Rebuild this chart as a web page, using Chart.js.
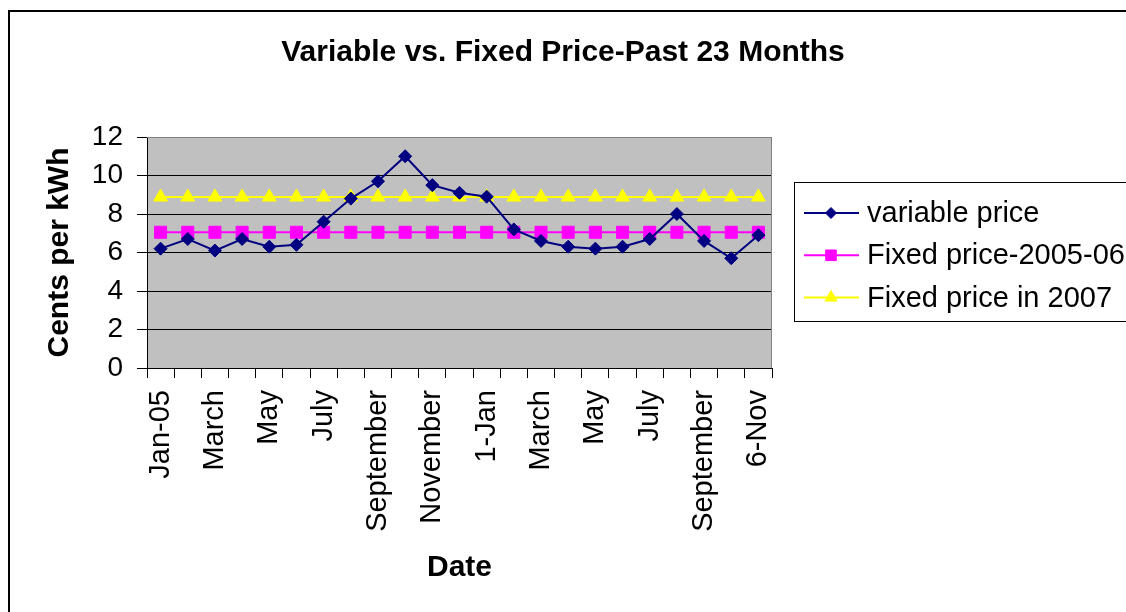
<!DOCTYPE html>
<html>
<head>
<meta charset="utf-8">
<script src="https://cdn.jsdelivr.net/npm/chart.js@4.4.1/dist/chart.umd.min.js"></script>
<style>
  html, body { margin: 0; padding: 0; background: #fff; }
  #wrap { width: 1126px; height: 612px; position: relative; }
</style>
</head>
<body>
<div id="wrap"><canvas id="chart"></canvas></div>
<script>
// ── Data ──────────────────────────────────────────────────
const months = ['Jan-05','February','March','April','May','June','July','August',
  'September','October','November','December','1-Jan','February','March','April',
  'May','June','July','August','September','October','6-Nov'];
const variablePrice = [6.2, 6.7, 6.1, 6.7, 6.3, 6.4, 7.6, 8.8, 9.7, 11.0, 9.5, 9.1,
  8.9, 7.2, 6.6, 6.3, 6.2, 6.3, 6.7, 8.0, 6.6, 5.7, 6.9];
const fixed2005_06 = [7.05, 7.05, 7.05, 7.05, 7.05, 7.05, 7.05, 7.05, 7.05, 7.05, 7.05, 7.05,
  7.05, 7.05, 7.05, 7.05, 7.05, 7.05, 7.05, 7.05, 7.05, 7.05, 7.05];
const fixed2007 = [8.88, 8.88, 8.88, 8.88, 8.88, 8.88, 8.88, 8.88, 8.88, 8.88, 8.88, 8.88,
  8.88, 8.88, 8.88, 8.88, 8.88, 8.88, 8.88, 8.88, 8.88, 8.88, 8.88];
const yTicks = [0, 2, 4, 6, 8, 10, 12];

const FONT = "'Liberation Sans', Arial, sans-serif";

// ── Plot background, outer frame, title ───────────────────
const frame = {
  id: 'frame',
  beforeDraw(chart) {
    const { ctx, chartArea: a } = chart;
    ctx.save();
    ctx.fillStyle = '#c0c0c0';
    ctx.fillRect(a.left, a.top, a.right - a.left, a.bottom - a.top);
    ctx.strokeStyle = '#000';
    ctx.lineWidth = 2;
    ctx.strokeRect(9, 11, 1300, 800);
    ctx.fillStyle = '#000';
    ctx.font = 'bold 30px ' + FONT;
    ctx.textAlign = 'center';
    ctx.textBaseline = 'middle';
    ctx.fillText('Variable vs. Fixed Price-Past 23 Months', 563, 53);
    ctx.restore();
  },
  beforeDatasetsDraw(chart) {
    const { ctx, chartArea: a } = chart;
    ctx.save();
    ctx.strokeStyle = '#808080';
    ctx.lineWidth = 1;
    ctx.beginPath();
    ctx.moveTo(a.left, a.top + 0.5);
    ctx.lineTo(a.right - 0.5, a.top + 0.5);
    ctx.lineTo(a.right - 0.5, a.bottom);
    ctx.stroke();
    ctx.restore();
  },
};

// ── Excel-style legend box ────────────────────────────────
const legendBox = {
  id: 'legendBox',
  afterDraw(chart) {
    const ctx = chart.ctx;
    ctx.save();
    ctx.strokeStyle = '#000';
    ctx.lineWidth = 1;
    ctx.strokeRect(794.5, 182.5, 400, 139);
    chart.data.datasets.forEach((ds, i) => {
      const y = 213 + i * 42.3;
      ctx.strokeStyle = ds.borderColor;
      ctx.lineWidth = ds.borderWidth;
      ctx.beginPath(); ctx.moveTo(804, y); ctx.lineTo(859, y); ctx.stroke();
      ctx.fillStyle = ds.pointBackgroundColor;
      ctx.strokeStyle = ds.pointBorderColor;
      ctx.lineWidth = 1;
      Chart.helpers.drawPoint(ctx, { pointStyle: ds.pointStyle, radius: ds.pointRadius - 1, rotation: 0, borderWidth: 1 }, 831, y);
      ctx.fillStyle = '#000';
      ctx.font = '29px ' + FONT;
      ctx.textAlign = 'left';
      ctx.textBaseline = 'middle';
      ctx.fillText(ds.label, 867, y + 1);
    });
    ctx.restore();
  },
};

const series = (label, data, color, style, r) => ({
  label, data,
  borderColor: color, backgroundColor: color, borderWidth: 2,
  pointStyle: style, pointRadius: r, pointHoverRadius: r,
  pointBackgroundColor: color, pointBorderColor: color, pointBorderWidth: 1,
  tension: 0,
});

new Chart(document.getElementById('chart'), {
  type: 'line',
  data: {
    labels: months,
    datasets: [
      series('variable price', variablePrice, '#000080', 'rectRot', 6.5),
      series('Fixed price-2005-06', fixed2005_06, '#ff00ff', 'rect', 8.5),
      series('Fixed price in 2007', fixed2007, '#ffff00', 'triangle', 8),
    ],
  },
  options: {
    responsive: true,
    maintainAspectRatio: false,
    animation: false,
    layout: { padding: { left: 0, right: 354, top: 137, bottom: 0 } },
    plugins: { legend: { display: false }, title: { display: false }, tooltip: { enabled: false } },
    scales: {
      x: {
        offset: true,
        afterFit: s => { s.height = 244; },
        grid: { offset: true, drawOnChartArea: false, color: '#000', tickLength: 10 },
        border: { color: '#000', width: 1 },
        ticks: {
          autoSkip: false, minRotation: 90, maxRotation: 90, padding: 12,
          color: '#000', font: { size: 29, family: FONT },
          callback: function (v, i) { return i % 2 === 0 ? this.getLabelForValue(v) : ''; },
        },
        title: { display: true, text: 'Date', color: '#000', font: { size: 30, weight: 'bold', family: FONT }, padding: { top: 0, bottom: 26 } },
      },
      y: {
        min: 0, max: 12,
        afterFit: s => { s.width = 147; },
        afterBuildTicks: s => { s.ticks = yTicks.map(v => ({ value: v })); },
        grid: {
          color: c => (c.tick && c.tick.value === 12 ? '#808080' : '#000'),
          tickColor: '#000', tickLength: 10,
        },
        border: { color: '#000', width: 1 },
        ticks: { padding: 14, color: '#000', font: { size: 28, family: FONT } },
        title: { display: true, text: 'Cents per kWh', color: '#000', font: { size: 30, weight: 'bold', family: FONT }, padding: { top: 42, bottom: 0 } },
      },
    },
  },
  plugins: [frame, legendBox],
});
</script>
</body>
</html>
